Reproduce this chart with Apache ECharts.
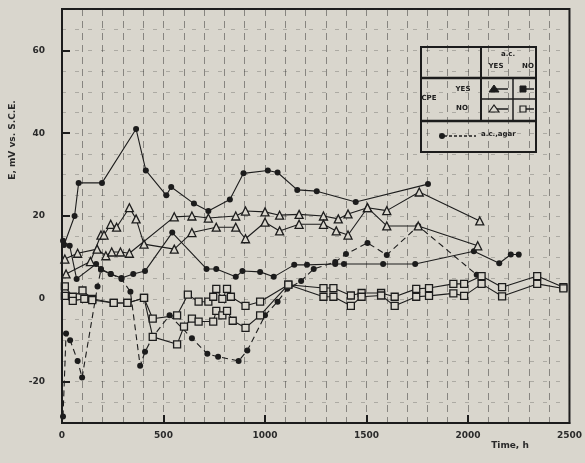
<!DOCTYPE html>
<html><head><meta charset="utf-8">
<script src="https://cdn.jsdelivr.net/npm/echarts@6/dist/echarts.min.js"></script>
<style>html,body{margin:0;padding:0;background:#d9d6cd;}#c{width:585px;height:463px;}</style>
</head><body><div id="c"></div>
<script>
// ---- tick labels ----
const xTickLabels = [0, 500, 1000, 1500, 2000, 2500];
const xTickMarks = [500, 1000, 1500, 2000];
const yTickLabels = [-20, 0, 20, 40, 60];
const yTickMarks = [-20, 20, 40, 60];

// ---- series: filled markers, solid line (upper) ----
const f1Time = [10, 62, 82, 197, 365, 413, 514, 538, 650, 721, 827, 894, 1014, 1062, 1159, 1255, 1447, 1803];
const f1E    = [13, 20, 28, 28, 41, 31, 25, 27, 23, 21.2, 24, 30.3, 31, 30.5, 26.3, 26, 23.4, 27.7];

// ---- filled markers, solid line (lower) ----
const f2Time = [5, 38, 72, 168, 192, 240, 293, 351, 409, 543, 712, 760, 856, 889, 976, 1043, 1144, 1207, 1346, 1389, 1582, 1740, 2029, 2154, 2211, 2250];
const f2E    = [14, 12.8, 4.8, 8.4, 7.2, 6, 5, 6, 6.7, 16, 7.2, 7.2, 5.3, 6.7, 6.5, 5.3, 8.2, 8.2, 8.4, 8.4, 8.4, 8.4, 11.5, 8.6, 10.7, 10.7];

// ---- open triangles (A) ----
const taTime = [14, 77, 173, 216, 245, 288, 332, 553, 640, 721, 856, 904, 1000, 1072, 1168, 1288, 1361, 1409, 1505, 1600, 1760, 2058];
const taE    = [9.6, 11, 12, 10.4, 11.3, 11.3, 11, 19.8, 20, 19.5, 20, 21.2, 21, 20.2, 20.4, 20, 19.3, 20.5, 22, 21.3, 25.8, 18.8];

// ---- open triangles (B) ----
const tbTime = [20, 140, 192, 207, 240, 269, 332, 365, 404, 553, 640, 760, 856, 904, 1000, 1072, 1168, 1288, 1351, 1409, 1505, 1600, 1755, 2048];
const tbE    = [6, 9, 15.4, 15.4, 18, 17.3, 22, 19.3, 13.2, 12, 16, 17.3, 17.3, 14.5, 18.5, 16.4, 18, 18, 16.4, 15.4, 22, 17.6, 17.6, 12.8];

// ---- open squares (upper) ----
const s1Time = [14, 53, 101, 149, 255, 322, 404, 447, 567, 620, 673, 721, 745, 760, 790, 813, 832, 904, 976, 1115, 1288, 1337, 1423, 1476, 1572, 1639, 1745, 1808, 1928, 1981, 2067, 2168, 2341, 2470];
const s1E    = [3, 0.5, 2, 0, -1, -1, 0.2, -4.8, -4, 1, -0.7, -0.7, 0.5, 2.4, 0, 2.4, 0.5, -1.7, -0.7, 3.4, 2.6, 2.6, 0.8, 1.4, 1.4, 0.5, 2.4, 2.6, 3.6, 3.6, 5.5, 2.8, 5.5, 2.8];

// ---- open squares (lower) ----
const s2Time = [14, 53, 110, 149, 255, 322, 404, 447, 567, 601, 640, 673, 745, 760, 790, 813, 841, 904, 976, 1115, 1288, 1337, 1423, 1476, 1572, 1639, 1745, 1808, 1928, 1981, 2067, 2168, 2341, 2470];
const s2E    = [0.7, -0.5, 0, -0.3, -1, -1, 0.2, -9.2, -11, -6.7, -4.8, -5.5, -5.5, -2.9, -4, -2.9, -5.3, -7, -4, 3.4, 0.5, 0.5, -1.7, 0.5, 0.8, -1.7, 0.5, 0.7, 1.3, 0.7, 3.6, 0.6, 3.6, 2.5];

// ---- filled circles, dashed line (a.c., agar) ----
const dTime = [5, 20, 40, 77, 99, 175, 192, 240, 293, 337, 385, 409, 447, 530, 640, 716, 769, 870, 913, 1000, 1062, 1110, 1178, 1240, 1346, 1399, 1505, 1600, 1755, 2043];
const dE    = [-28.4, -8.4, -10, -15, -19, 3, 7, 6, 4.8, 1.7, -16.2, -12.8, -9.2, -4, -9.5, -13.3, -14, -15, -12.5, -4, -0.7, 2.4, 4.3, 7.2, 8.9, 10.8, 13.5, 10.6, 17.6, 5.8];

const BG = '#d9d6cd';
const INK = '#1c1c1c';
const FONT = 'DejaVu Sans';
const zip = (a, b) => a.map((v, i) => [v, b[i]]);

function filledSeries(t, e, dashed) {
  return {
    type: 'line', data: zip(t, e), symbol: 'circle', symbolSize: 6,
    xAxisIndex: 0, yAxisIndex: 0,
    itemStyle: { color: INK },
    lineStyle: { color: INK, width: 1.1, type: dashed ? [6, 4] : 'solid' },
    z: 5
  };
}
function openSeries(t, e, sym, size) {
  return {
    type: 'line', data: zip(t, e), symbol: sym, symbolSize: size,
    xAxisIndex: 0, yAxisIndex: 0,
    itemStyle: { color: BG, borderColor: INK, borderWidth: 1.3 },
    lineStyle: { color: INK, width: 1.1 },
    z: 6
  };
}

const chart = echarts.init(document.getElementById('c'), null, { renderer: 'canvas' });
const lbl = { fontFamily: FONT, fontSize: 9, fontWeight: 'bold', color: '#2a2a2a', formatter: v => String(v) };
const hidden = { axisLine: { show: false }, axisTick: { show: false }, axisLabel: { show: false } };

chart.setOption({
  backgroundColor: BG,
  animation: false,
  grid: { left: 62, right: 3, top: 9, bottom: 40, show: true, borderColor: INK, borderWidth: 2, backgroundColor: 'transparent' },
  xAxis: [{
    type: 'value', min: 0, max: 2500, interval: 500,
    axisLine: { show: true, onZero: false, lineStyle: { color: INK, width: 2 } },
    axisTick: { show: true, inside: true, length: 8, customValues: xTickMarks, lineStyle: { color: INK, width: 2 } },
    axisLabel: Object.assign({ customValues: xTickLabels, margin: 8 }, lbl),
    splitLine: { show: false }, z: 10
  }, Object.assign({
    type: 'value', min: 0, max: 2500, interval: 100, position: 'bottom',
    splitLine: { show: true, lineStyle: { color: 'rgba(35,35,35,0.5)', width: 0.9, type: [7, 5] } }
  }, hidden)],
  yAxis: [{
    type: 'value', min: -30, max: 70, interval: 10,
    axisLine: { show: true, onZero: false, lineStyle: { color: INK, width: 2 } },
    axisTick: { show: true, inside: true, length: 8, customValues: yTickMarks, lineStyle: { color: INK, width: 2 } },
    axisLabel: Object.assign({ customValues: yTickLabels, margin: 17 }, lbl),
    splitLine: { show: false }, z: 10
  }, Object.assign({
    type: 'value', min: -30, max: 70, interval: 5, position: 'left',
    splitLine: { show: true, lineStyle: { color: 'rgba(45,45,45,0.32)', width: 0.8, type: [4, 9] } }
  }, hidden)],
  series: [
    filledSeries(f1Time, f1E, false),
    filledSeries(f2Time, f2E, false),
    openSeries(taTime, taE, 'triangle', 8),
    openSeries(tbTime, tbE, 'triangle', 8),
    openSeries(s1Time, s1E, 'rect', 7),
    openSeries(s2Time, s2E, 'rect', 7),
    filledSeries(dTime, dE, true)
  ],
  graphic: [
    { type: 'text', x: 13, y: 140, rotation: Math.PI / 2,
      style: { text: 'E, mV vs. S.C.E.', fontFamily: FONT, fontSize: 9, fontWeight: 'bold', fill: '#2a2a2a', align: 'center', verticalAlign: 'middle' } },
    { type: 'text', x: 510, y: 446,
      style: { text: 'Time, h', fontFamily: FONT, fontSize: 9, fontWeight: 'bold', fill: '#2a2a2a', align: 'center', verticalAlign: 'middle' } },
    { type: 'group', z: 100, children: [
      { type: 'rect', shape: { x: 421, y: 47, width: 115, height: 105 }, style: { fill: BG, stroke: INK, lineWidth: 2 } },
      { type: 'line', shape: { x1: 421, y1: 78, x2: 536, y2: 78 }, style: { stroke: INK, lineWidth: 2.5 } },
      { type: 'line', shape: { x1: 421, y1: 121, x2: 536, y2: 121 }, style: { stroke: INK, lineWidth: 2.5 } },
      { type: 'line', shape: { x1: 481, y1: 47, x2: 481, y2: 121 }, style: { stroke: INK, lineWidth: 2 } },
      { type: 'line', shape: { x1: 513, y1: 78, x2: 513, y2: 121 }, style: { stroke: INK, lineWidth: 1.5 } },
      { type: 'line', shape: { x1: 481, y1: 99, x2: 536, y2: 99 }, style: { stroke: INK, lineWidth: 1.5 } },
      { type: 'text', x: 508, y: 54, style: { text: 'a.c.', fontFamily: FONT, fontSize: 7, fontWeight: 'bold', fill: INK, align: 'center', verticalAlign: 'middle' } },
      { type: 'text', x: 496, y: 66, style: { text: 'YES', fontFamily: FONT, fontSize: 7, fontWeight: 'bold', fill: INK, align: 'center', verticalAlign: 'middle' } },
      { type: 'text', x: 528, y: 66, style: { text: 'NO', fontFamily: FONT, fontSize: 7, fontWeight: 'bold', fill: INK, align: 'center', verticalAlign: 'middle' } },
      { type: 'text', x: 429, y: 98, style: { text: 'CPE', fontFamily: FONT, fontSize: 7, fontWeight: 'bold', fill: INK, align: 'center', verticalAlign: 'middle' } },
      { type: 'text', x: 463, y: 89, style: { text: 'YES', fontFamily: FONT, fontSize: 7, fontWeight: 'bold', fill: INK, align: 'center', verticalAlign: 'middle' } },
      { type: 'text', x: 462, y: 108, style: { text: 'NO', fontFamily: FONT, fontSize: 7, fontWeight: 'bold', fill: INK, align: 'center', verticalAlign: 'middle' } },
      { type: 'line', shape: { x1: 494, y1: 89, x2: 508, y2: 89 }, style: { stroke: INK, lineWidth: 1.5 } },
      { type: 'polygon', shape: { points: [[489, 92], [494, 85], [499, 92]] }, style: { fill: INK, stroke: INK, lineWidth: 1 } },
      { type: 'line', shape: { x1: 525, y1: 89, x2: 534, y2: 89 }, style: { stroke: INK, lineWidth: 1.5 } },
      { type: 'rect', shape: { x: 520, y: 86, width: 6, height: 6 }, style: { fill: INK, stroke: INK, lineWidth: 1 } },
      { type: 'line', shape: { x1: 497, y1: 109, x2: 508, y2: 109 }, style: { stroke: INK, lineWidth: 1.5 } },
      { type: 'polygon', shape: { points: [[489, 112], [494, 105], [499, 112]] }, style: { fill: BG, stroke: INK, lineWidth: 1.2 } },
      { type: 'line', shape: { x1: 526, y1: 109, x2: 534, y2: 109 }, style: { stroke: INK, lineWidth: 1.5 } },
      { type: 'rect', shape: { x: 520, y: 106, width: 6, height: 6 }, style: { fill: BG, stroke: INK, lineWidth: 1.2 } },
      { type: 'line', shape: { x1: 444, y1: 136, x2: 476, y2: 136 }, style: { stroke: INK, lineWidth: 1.5, lineDash: [3, 2] } },
      { type: 'circle', shape: { cx: 442, cy: 136, r: 3 }, style: { fill: INK } },
      { type: 'text', x: 481, y: 134, style: { text: 'a.c.,agar', fontFamily: FONT, fontSize: 7, fontWeight: 'bold', fill: INK, align: 'left', verticalAlign: 'middle' } }
    ] }
  ]
});
</script>
</body></html>
